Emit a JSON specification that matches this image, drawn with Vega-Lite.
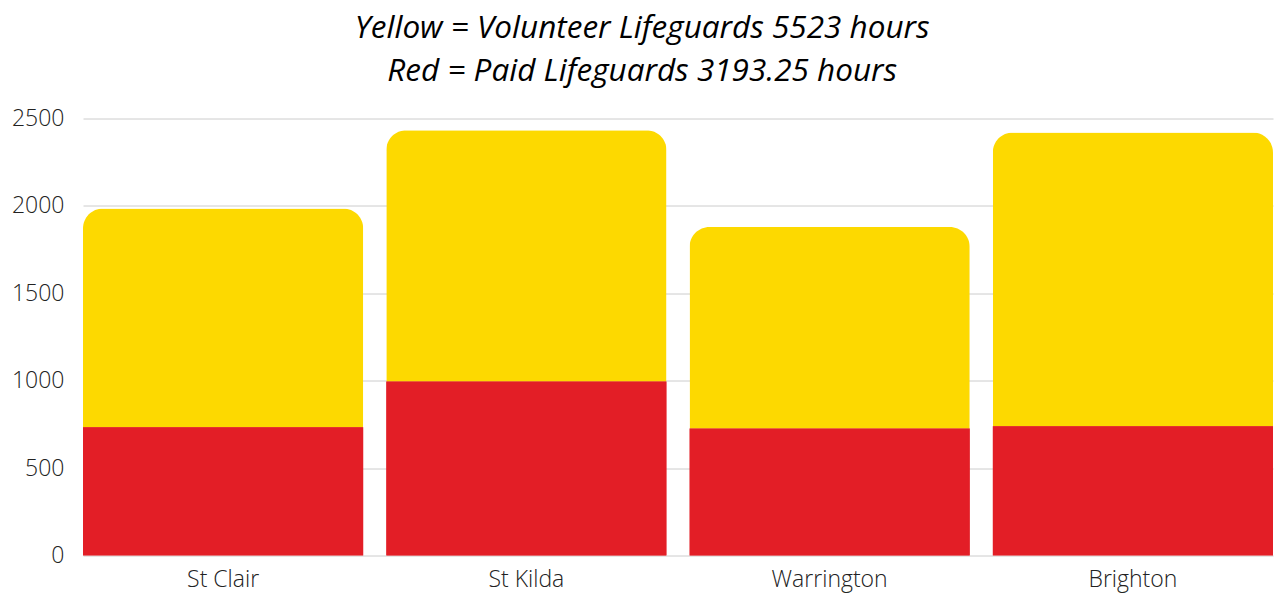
{
  "$schema": "https://vega.github.io/schema/vega-lite/v6.json",
  "autosize": {"type": "none"},
  "padding": {"left": 83, "top": 118.5, "right": 1, "bottom": 38.5},
  "width": 1190,
  "height": 437,
  "background": "white",
  "view": {"stroke": null},
  "title": {
    "text": ["Yellow = Volunteer Lifeguards 5523 hours", "Red = Paid Lifeguards 3193.25 hours"],
    "font": "Open Sans",
    "fontStyle": "italic",
    "fontWeight": "normal",
    "fontSize": 31.5,
    "lineHeight": 43,
    "color": "#000000",
    "anchor": "middle",
    "frame": "bounds",
    "offset": 20
  },
  "data": {
    "values": [
      {"beach": "St Clair", "type": "Paid", "hours": 733},
      {"beach": "St Clair", "type": "Volunteer", "hours": 1252},
      {"beach": "St Kilda", "type": "Paid", "hours": 995},
      {"beach": "St Kilda", "type": "Volunteer", "hours": 1438},
      {"beach": "Warrington", "type": "Paid", "hours": 726},
      {"beach": "Warrington", "type": "Volunteer", "hours": 1153},
      {"beach": "Brighton", "type": "Paid", "hours": 739.25},
      {"beach": "Brighton", "type": "Volunteer", "hours": 1680}
    ]
  },
  "encoding": {
    "x": {
      "field": "beach",
      "type": "nominal",
      "sort": ["St Clair", "St Kilda", "Warrington", "Brighton"],
      "scale": {"paddingInner": 0.076, "paddingOuter": 0},
      "axis": {
        "title": null,
        "labelAngle": 0,
        "ticks": false,
        "domain": false,
        "labelFont": "Open Sans",
        "labelFontWeight": 300,
        "labelFontSize": 23,
        "labelColor": "#222222",
        "labelPadding": 13
      }
    },
    "y": {
      "field": "hours",
      "type": "quantitative",
      "aggregate": "sum",
      "scale": {"domain": [0, 2500], "nice": false},
      "axis": {
        "title": null,
        "values": [0, 500, 1000, 1500, 2000, 2500],
        "format": "d",
        "ticks": false,
        "domain": false,
        "gridColor": "#cccccc",
        "gridWidth": 1,
        "labelFont": "Open Sans",
        "labelFontWeight": 300,
        "labelFontSize": 23,
        "labelColor": "#222222",
        "labelPadding": 19
      }
    }
  },
  "layer": [
    {
      "mark": {"type": "bar", "cornerRadiusTopLeft": 20, "cornerRadiusTopRight": 20},
      "encoding": {
        "color": {
          "field": "type",
          "type": "nominal",
          "scale": {"domain": ["Paid", "Volunteer"], "range": ["#E31E26", "#FDD900"]},
          "legend": null
        },
        "order": {"field": "type", "sort": "ascending"}
      }
    },
    {
      "transform": [{"filter": "datum.type === 'Paid'"}],
      "mark": {"type": "bar", "color": "#E31E26"},
      "encoding": {}
    }
  ]
}
